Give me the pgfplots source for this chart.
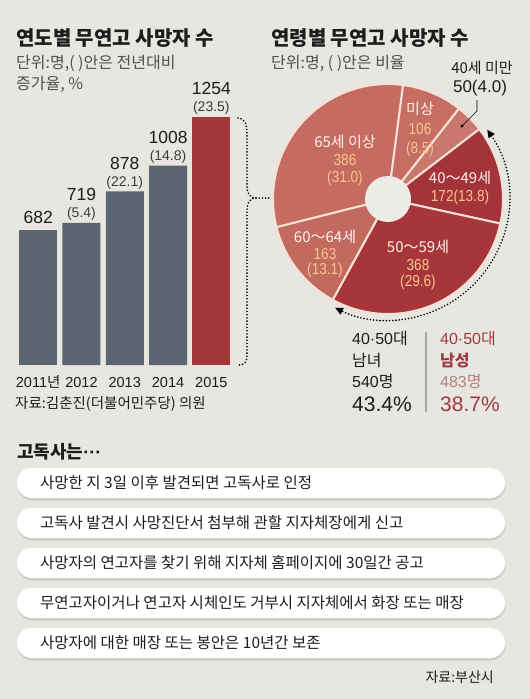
\documentclass[border=0pt]{standalone}
\usepackage{fontspec}
\usepackage{pgfplots}
\pgfplotsset{compat=1.18}
\usepackage{pgfplotstable}
\usetikzlibrary{arrows.meta,shadows}
\setmainfont{Noto Sans CJK KR}
\newfontfamily\kr{Noto Sans CJK KR}
\newfontfamily\num{Liberation Sans}
\newfontfamily\numc[FakeStretch=0.85]{Liberation Sans}
\newcommand\fs[1]{\fontsize{#1}{#1}\selectfont}
\definecolor{bgc}{HTML}{E7E6E0}
\definecolor{slate}{HTML}{5B6571}
\definecolor{barred}{HTML}{A3383A}
\definecolor{pA}{HTML}{C66B61}
\definecolor{pB}{HTML}{C66E63}
\definecolor{pC}{HTML}{C9786D}
\definecolor{pD}{HTML}{A5343A}
\definecolor{pE}{HTML}{A7363B}
\definecolor{pF}{HTML}{C26A60}
\definecolor{sepc}{HTML}{F5E1D6}
\definecolor{holec}{HTML}{ECEBE5}
\definecolor{orng}{HTML}{F8C58A}
\definecolor{wtxt}{HTML}{FFF4EE}
\definecolor{subg}{HTML}{505050}
\definecolor{darkt}{HTML}{1D1D1D}
\definecolor{pctg}{HTML}{3C3C3C}
\definecolor{redt}{HTML}{A03A42}
\definecolor{redl}{HTML}{B98080}

\pgfplotstableread{
x y pct
0 682 0
}\bara
\pgfplotstableread{
x y pct
1 719 5.4
2 878 22.1
3 1008 14.8
}\barb
\pgfplotstableread{
x y pct
4 1254 23.5
}\barc
% clockwise from the top
\pgfplotstableread{
grp val col
unk 106 pB
u40 50 pC
40s 172 pD
50s 368 pE
60s 163 pF
65+ 386 pA
}\agetab

\begin{document}
\begin{tikzpicture}[x=1pt,y=1pt,every node/.style={inner sep=0pt},
  dots/.style={line width=1.8pt, dash pattern=on 0pt off 3.2pt, line cap=round}]
\begin{scope}[y=-1pt]
\useasboundingbox (0,0) rectangle (530,699);
\fill[bgc] (0,0) rectangle (530,699);

% titles
\node[anchor=west, font=\kr\bfseries\fs{20}, text=darkt] at (16,38) {연도별 무연고 사망자 수};
\node[anchor=west, font=\kr\fs{16}, text=subg] at (16,63) {단위:명,( )안은 전년대비};
\node[anchor=west, font=\kr\fs{16}, text=subg] at (16,84) {증가율, \%};
\node[anchor=west, font=\kr\bfseries\fs{20}, text=darkt] at (271,38) {연령별 무연고 사망자 수};
\node[anchor=west, font=\kr\fs{16}, text=subg] at (271,63) {단위:명, ( )안은 비율};
\node[anchor=west, font=\kr\fs{14.5}, text=darkt] at (15,404) {자료:김춘진(더불어민주당) 의원};

% brace
\draw[dots] (238,118) .. controls (246,119) and (247,125) .. (247,135) -- (247,186)
   .. controls (247,194) and (250,198) .. (256,198) -- (272,198);
\draw[dots] (256,198) .. controls (250,198) and (247,202) .. (247,212) -- (247,355)
   .. controls (247,362) and (245,365) .. (238,365);
\end{scope}

% bar chart
\begin{axis}[at={(16.5pt,-365pt)}, anchor=south west, scale only axis,
  width=216.5pt, height=248pt, xmin=-0.5, xmax=4.5, ymin=0, ymax=1254,
  ybar, bar width=38pt, bar shift=0pt, clip=false,
  axis line style={draw=none}, major tick length=0pt, ytick=\empty,
  xtick={0,1,2,3,4},
  xticklabels={{2011{\kr 년}},2012,2013,2014,2015},
  xticklabel style={anchor=base, yshift=-22pt, font=\num\fs{14.5}, text=darkt},
  /pgf/number format/1000 sep={},
  /pgf/number format/assume math mode=true]
\addplot[fill=slate, draw=none, point meta=y,
  nodes near coords={\fs{17.5}\num\pgfmathprintnumber[fixed,precision=0]{\pgfplotspointmeta}},
  every node near coord/.append style={anchor=base, yshift=7pt, text=darkt}]
  table[x=x,y=y]{\bara};
\addplot[fill=slate, draw=none, point meta=y,
  visualization depends on={\thisrow{pct}\as\pv},
  nodes near coords={{\fs{17.5}\color{darkt}\num\pgfmathprintnumber[fixed,precision=0]{\pgfplotspointmeta}}\\{\num(\pgfmathprintnumber[fixed,fixed zerofill,precision=1]{\pv})}},
  every node near coord/.append style={anchor=south, yshift=2pt, align=center,
     font=\fontsize{14}{17}\selectfont, text=pctg}]
  table[x=x,y=y]{\barb};
\addplot[fill=barred, draw=none, point meta=y,
  visualization depends on={\thisrow{pct}\as\pv},
  nodes near coords={{\fs{17.5}\color{darkt}\num\pgfmathprintnumber[fixed,precision=0]{\pgfplotspointmeta}}\\{\num(\pgfmathprintnumber[fixed,fixed zerofill,precision=1]{\pv})}},
  every node near coord/.append style={anchor=south, yshift=2pt, align=center,
     font=\fontsize{14}{17}\selectfont, text=pctg}]
  table[x=x,y=y]{\barc};
\end{axis}

% pie
\begin{axis}[at={(388pt,-199pt)}, anchor=origin, x=1pt, y=1pt,
  xmin=-130, xmax=130, ymin=-130, ymax=130, hide axis, clip=false]
\pgfplotsextra{%
  \xdef\acc{82.5}%
  \foreach \i in {0,...,5}{%
    \pgfplotstablegetelem{\i}{val}\of\agetab \edef\val{\pgfplotsretval}%
    \pgfplotstablegetelem{\i}{col}\of\agetab \edef\col{\pgfplotsretval}%
    \pgfmathsetmacro\endang{\acc-\val/1245*360}%
    \fill[fill=\col, draw=sepc, line width=2pt, line join=round]
      (axis cs:0,0) -- ++(\acc:115pt) arc[start angle=\acc, end angle=\endang, radius=115pt] -- cycle;
    \xdef\acc{\endang}%
  }%
  \fill[holec] (axis cs:0,0) circle[radius=23pt];
  \draw[dots, {Triangle[length=8pt,width=7pt]}-{Triangle[length=8pt,width=7pt]}]
    (axis cs:0,0) ++(35:121pt) arc[start angle=35, end angle=-116, radius=121pt];
}
\node[font=\kr\fs{15}, text=wtxt] at (axis cs:32,90) {미상};
\node[font=\numc\fs{16}, text=orng] at (axis cs:32,70) {106};
\node[font=\numc\fs{16}, text=orng] at (axis cs:32,50) {(8.5)};
\node[font=\kr\fs{15}, text=wtxt] at (axis cs:-43,57) {65세 이상};
\node[font=\numc\fs{16}, text=orng] at (axis cs:-43,39) {386};
\node[font=\numc\fs{16}, text=orng] at (axis cs:-43,21) {(31.0)};
\node[font=\kr\fs{15}, text=wtxt] at (axis cs:72,21) {40～49세};
\node[font=\numc\fs{16}, text=orng] at (axis cs:72,2) {172(13.8)};
\node[font=\kr\fs{15}, text=wtxt] at (axis cs:-63,-38) {60～64세};
\node[font=\numc\fs{16}, text=orng] at (axis cs:-63,-55) {163};
\node[font=\numc\fs{16}, text=orng] at (axis cs:-63,-71) {(13.1)};
\node[font=\kr\fs{15}, text=wtxt] at (axis cs:30,-48) {50～59세};
\node[font=\numc\fs{16}, text=orng] at (axis cs:30,-66) {368};
\node[font=\numc\fs{16}, text=orng] at (axis cs:30,-83) {(29.6)};
\end{axis}

\begin{scope}[y=-1pt]
% under-40 callout
\node[font=\kr\fs{15}, text=darkt] at (482,68) {40세 미만};
\node[font=\num\fs{17}, text=darkt] at (480,88) {50(4.0)};
\draw[line width=0.6pt] (477,100) -- (477,111) -- (462,126);
\fill (462,126) circle (1.6pt);

% 40-50 stats
\node[anchor=west, font=\kr\fs{16}, text=darkt] at (352,339) {{\num 40·50}대};
\node[anchor=west, font=\kr\fs{16}, text=darkt] at (352,361) {남녀};
\node[anchor=west, font=\kr\fs{16}, text=darkt] at (352,381) {{\num 540}명};
\node[anchor=west, font=\num\fs{21}, text=darkt] at (352,404) {43.4\%};
\draw[gray!70, line width=1.2pt] (426,332) -- (426,412);
\node[anchor=west, font=\kr\fs{16}, text=redt] at (440,339) {{\num 40·50}대};
\node[anchor=west, font=\kr\bfseries\fs{16}, text=redt] at (440,361) {남성};
\node[anchor=west, font=\kr\fs{16}, text=redl] at (440,381) {{\num 483}명};
\node[anchor=west, font=\num\fs{21}, text=redt] at (440,404) {38.7\%};

% bottom section
\node[anchor=west, font=\kr\bfseries\fs{18}, text=darkt] at (17,452) {고독사는{\num···}};
\foreach \yy/\txt in {468/사망한 지 3일 이후 발견되면 고독사로 인정,
  508/고독사 발견시 사망진단서 첨부해 관할 지자체장에게 신고,
  548/사망자의 연고자를 찾기 위해 지자체 홈페이지에 30일간 공고,
  588/무연고자이거나 연고자 시체인도 거부시 지자체에서 화장 또는 매장,
  628/사망자에 대한 매장 또는 봉안은 10년간 보존}{
  \fill[white, rounded corners=15pt, drop shadow={shadow xshift=0.5pt, shadow yshift=-2.5pt, opacity=0.25}]
    (17,\yy) rectangle (505,\yy+30);
  \node[anchor=west, font=\kr\fs{15.5}, text=darkt] at (40,\yy+15) {\txt};
}
\node[anchor=east, font=\kr\fs{14}, text=darkt] at (494,677) {자료:부산시};
\end{scope}
\end{tikzpicture}
\end{document}
